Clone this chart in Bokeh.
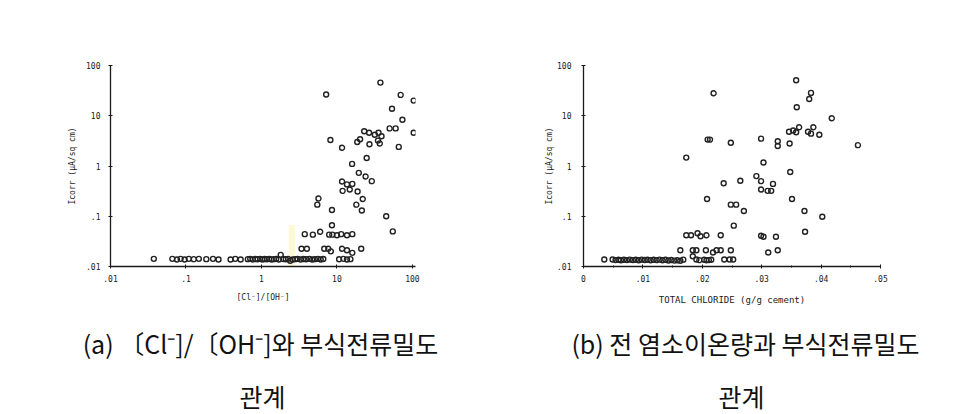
from bokeh.plotting import figure
from bokeh.layouts import row, column
from bokeh.models import FixedTicker, CustomJSTickFormatter, Range1d
from bokeh.core.properties import value
from bokeh.embed import file_html
from bokeh.resources import INLINE

# ---------------- panel (a): [Cl-]/[OH-] vs Icorr ----------------
a_ratio = [7.2, 37.7, 70, 104, 53.7, 73.8, 50, 60, 104, 23, 26.7, 31.8, 35.6, 39, 35,
           20.3, 18.6, 27, 37, 8.2, 11.7, 66, 24.8, 15.9,
           19.5, 24, 29, 11.7, 13.6, 16, 11.9, 14.8, 18.8, 22, 5.7, 5.5, 18.1, 8.6,
           21.4, 45, 55, 8.6,
           3.75, 4.8, 6.0, 7.9, 8.7, 10, 11.4, 13.6, 16,
           3.4, 4.0, 6.8, 7.7, 8.3, 11.7, 13.6, 16, 21,
           1.8, 2.4,
           0.0375, 0.066, 0.076, 0.085, 0.096, 0.109, 0.127, 0.148, 0.186, 0.228, 0.27,
           0.39, 0.45, 0.53, 0.66, 0.71, 0.77, 0.83, 0.89, 0.96, 1.03, 1.1, 1.18, 1.27,
           1.36, 1.46, 1.57, 1.7, 1.95, 2.1, 2.25, 2.6, 2.8, 3.0, 3.3, 3.6, 3.9, 4.3,
           4.7, 5.1, 5.6, 6.1, 6.6, 10.7, 12.2, 13.6, 15.1]
a_icorr = [26.5, 45.7, 26, 20, 13.8, 8.3, 5.6, 5.6, 4.6, 4.9, 4.6, 4.2, 4.6, 3.9, 3.2,
           3.4, 3.0, 2.7, 2.8, 3.3, 2.3, 2.4, 1.44, 1.1,
           0.73, 0.62, 0.50, 0.49, 0.43, 0.44, 0.32, 0.34, 0.31, 0.22, 0.225, 0.17, 0.17, 0.133,
           0.13, 0.10, 0.05, 0.066,
           0.044, 0.043, 0.049, 0.043, 0.043, 0.042, 0.044, 0.042, 0.044,
           0.0225, 0.0225, 0.0225, 0.0225, 0.020, 0.0225, 0.021, 0.0187, 0.0225,
           0.017, 0.013,
           0.0142, 0.0142, 0.0138, 0.0142, 0.0138, 0.0142, 0.0140, 0.0142, 0.0140, 0.0142, 0.0138,
           0.0138, 0.0142, 0.0138, 0.0140, 0.0142, 0.0138, 0.0141, 0.0139, 0.0142, 0.0138, 0.0141,
           0.0139, 0.0142, 0.0138, 0.0140, 0.0142, 0.0138, 0.0141, 0.0139, 0.0142, 0.0138, 0.0140,
           0.0142, 0.0138, 0.0141, 0.0139, 0.0142, 0.0138, 0.0140, 0.0142, 0.0138, 0.0141,
           0.0139, 0.0142, 0.0138, 0.0140]
a_xticks = [0.01, 0.1, 1, 10, 100]
a_yticks = [0.01, 0.1, 1, 10, 100]
a_scan_band = dict(left=[2.3], right=[2.8], bottom=[0.0101], top=[0.067])

# ---------------- panel (b): total chloride vs Icorr ----------------
b_chloride = [0.0358, 0.0219, 0.0383, 0.0380, 0.0359, 0.0418, 0.0346, 0.0353, 0.0358,
              0.0363, 0.0378, 0.0383, 0.0387, 0.0397, 0.0209, 0.0213, 0.0248, 0.0299,
              0.0327, 0.0327, 0.0347, 0.0462, 0.0173, 0.0303, 0.0348, 0.0291, 0.0299,
              0.0264, 0.0236, 0.0319, 0.0299, 0.0310, 0.0316, 0.0208, 0.0351, 0.0248,
              0.0257, 0.0270, 0.0372, 0.0402, 0.0253, 0.0373, 0.0173, 0.0181, 0.0192,
              0.0197, 0.0207, 0.0231, 0.0299, 0.0303, 0.0324, 0.0163, 0.0184, 0.0190,
              0.0206, 0.0218, 0.0224, 0.0231, 0.0248, 0.0311, 0.0327, 0.0184,
              0.0035, 0.0049, 0.0054, 0.0059, 0.0063, 0.0068, 0.0073, 0.0078, 0.0083,
              0.0088, 0.0093, 0.0098, 0.0103, 0.0108, 0.0113, 0.0118, 0.0123, 0.0128,
              0.0133, 0.0138, 0.0143, 0.0148, 0.0153, 0.0158, 0.0163, 0.0168, 0.0190,
              0.0195, 0.0203, 0.0207, 0.0211, 0.0215, 0.0237, 0.0246, 0.0252]
b_icorr = [51, 28, 28.5, 21.5, 14.8, 8.9, 4.8, 5.1, 4.7, 5.9, 4.8, 4.4, 5.9, 4.2, 3.35,
           3.35, 2.9, 3.5, 3.1, 2.5, 2.8, 2.6, 1.47, 1.17, 0.76, 0.63, 0.50, 0.51, 0.455,
           0.44, 0.34, 0.32, 0.32, 0.22, 0.22, 0.17, 0.17, 0.127, 0.127, 0.098, 0.065,
           0.049, 0.042, 0.042, 0.046, 0.040, 0.042, 0.042, 0.041, 0.039, 0.039, 0.021,
           0.021, 0.021, 0.021, 0.019, 0.021, 0.021, 0.021, 0.019, 0.021, 0.016,
           0.0138, 0.0138, 0.0134, 0.0136, 0.0133, 0.0136, 0.0134, 0.0137, 0.0134,
           0.0136, 0.0133, 0.0137, 0.0135, 0.0136, 0.0133, 0.0136, 0.0134, 0.0137,
           0.0133, 0.0136, 0.0132, 0.0135, 0.0131, 0.0133, 0.0130, 0.0137, 0.0138,
           0.0134, 0.0136, 0.0133, 0.0134, 0.0136, 0.0138, 0.0138, 0.0138]
b_xticks = [0, 0.01, 0.02, 0.03, 0.04, 0.05]
b_yticks = [0.01, 0.1, 1, 10, 100]

# ---------------- captions (text under each panel) ----------------
captions = ["(a) 〔Cl⁻]/〔OH⁻]와 부식전류밀도", "관계",
            "(b) 전 염소이온량과 부식전류밀도", "관계"]
caption_x = [260, 262, 745, 741]      # page pixels
caption_y = [72, 19, 72, 19]          # pixels from bottom of the caption strip

TICK_FONT = "DejaVu Sans Mono"
CAP_FONT = "Noto Sans CJK KR"
INK = "#1a1a1a"

log_fmt = CustomJSTickFormatter(code="""
    if (tick >= 1) { return tick.toFixed(0); }
    return String(Number(tick.toPrecision(3))).replace(/^0/, '');
""")
lin_fmt = CustomJSTickFormatter(code="""
    if (Math.abs(tick) < 1e-9) { return '0'; }
    return tick.toFixed(2).replace(/^0/, '');
""")


def style(p, ytitle, xtitle, tick_sd, ylab_sd, xlab_sd, xfont):
    p.outline_line_color = None
    p.xgrid.grid_line_color = None
    p.ygrid.grid_line_color = None
    p.background_fill_color = "white"
    p.border_fill_color = "white"
    for ax in (p.xaxis[0], p.yaxis[0]):
        ax.axis_line_color = INK
        ax.axis_line_width = 1.3
        ax.major_tick_line_color = INK
        ax.major_tick_line_width = 1
        ax.major_tick_out = 2
        ax.major_tick_in = 2
        ax.minor_tick_line_color = INK
        ax.minor_tick_out = 1
        ax.minor_tick_in = 1
        ax.major_label_text_font = TICK_FONT
        ax.major_label_text_font_size = "8px"
        ax.major_label_text_color = INK
        ax.axis_label_text_font = TICK_FONT
        ax.axis_label_text_font_style = "normal"
        ax.axis_label_text_color = INK
    p.yaxis[0].major_label_standoff = tick_sd
    p.xaxis[0].major_label_standoff = 6
    p.yaxis[0].axis_label = ytitle
    p.yaxis[0].axis_label_text_font_size = "8px"
    p.yaxis[0].axis_label_standoff = ylab_sd
    p.xaxis[0].axis_label = xtitle
    p.xaxis[0].axis_label_text_font_size = xfont
    p.xaxis[0].axis_label_standoff = xlab_sd


# ---------------- figure (a) ----------------
p1 = figure(width=479, height=314, x_axis_type="log", y_axis_type="log",
            x_range=Range1d(0.01, 110), y_range=Range1d(0.01, 100),
            output_backend="svg", toolbar_location=None,
            min_border_left=110, min_border_right=64, min_border_top=65, min_border_bottom=48)
p1.quad(**a_scan_band, fill_color="#fbf5b8", fill_alpha=0.6, line_color=None)
p1.scatter(a_ratio, a_icorr, marker="circle", size=5, fill_color=None,
           line_color="#222", line_width=1.4)
p1.xaxis[0].ticker = FixedTicker(ticks=a_xticks, minor_ticks=[])
p1.yaxis[0].ticker = FixedTicker(ticks=a_yticks, minor_ticks=[])
p1.xaxis[0].formatter = log_fmt
p1.yaxis[0].formatter = log_fmt
style(p1, "Icorr (μA/sq cm)", "[Cl⁻]/[OH⁻]", 8, 6, 8, "8px")

# ---------------- figure (b) ----------------
p2 = figure(width=479, height=314, y_axis_type="log",
            x_range=Range1d(0, 0.05), y_range=Range1d(0.01, 100),
            output_backend="svg", toolbar_location=None,
            min_border_left=104, min_border_right=78, min_border_top=65, min_border_bottom=48)
p2.scatter(b_chloride, b_icorr, marker="circle", size=5, fill_color=None,
           line_color="#222", line_width=1.4)
p2.xaxis[0].ticker = FixedTicker(ticks=b_xticks,
                                 minor_ticks=[0.005, 0.015, 0.025, 0.035, 0.045])
p2.yaxis[0].ticker = FixedTicker(ticks=b_yticks, minor_ticks=[])
p2.xaxis[0].formatter = lin_fmt
p2.yaxis[0].formatter = log_fmt
style(p2, "Icorr (μA/sq cm)", "TOTAL CHLORIDE (g/g cement)", 10, 0, 10, "9px")

# ---------------- caption strip ----------------
c = figure(width=958, height=100, x_range=Range1d(0, 958), y_range=Range1d(0, 100),
           output_backend="svg", toolbar_location=None,
           x_axis_location=None, y_axis_location=None,
           min_border_left=0, min_border_right=0, min_border_top=0, min_border_bottom=0)
c.outline_line_color = None
c.xgrid.grid_line_color = None
c.ygrid.grid_line_color = None
c.text(x=caption_x, y=caption_y, text=captions, text_font=value(CAP_FONT),
       text_font_size="25px", text_color="#111", text_align="center",
       text_baseline="middle")

layout = column(row(p1, p2, spacing=0), c, spacing=0)
open("out.html", "w").write(file_html(layout, INLINE))
